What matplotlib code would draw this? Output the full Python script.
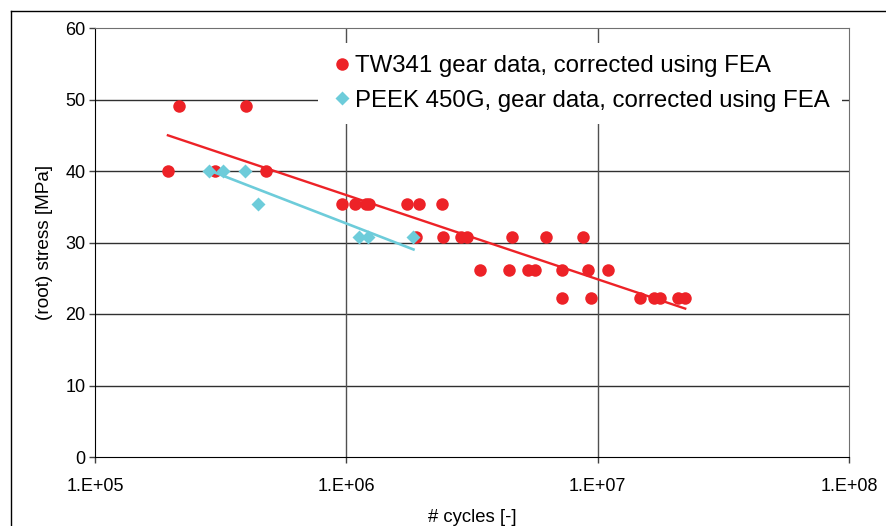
import matplotlib
matplotlib.use("Agg")
import matplotlib.pyplot as plt
import numpy as np
from matplotlib.lines import Line2D
from matplotlib.ticker import FixedLocator, FuncFormatter, NullLocator

plt.rcParams["font.family"] = ["Liberation Sans", "DejaVu Sans"]

# TW341 gear tests: cycles to failure at each root stress level
tw341_cycles = [
    2.16e5, 3.98e5,
    1.95e5, 2.99e5, 4.77e5,
    9.6e5, 1.08e6, 1.20e6, 1.23e6, 1.74e6, 1.94e6, 2.40e6,
    1.89e6, 2.42e6, 2.86e6, 3.01e6, 4.56e6, 6.23e6, 8.78e6,
    3.40e6, 4.42e6, 5.30e6, 5.63e6, 7.24e6, 9.13e6, 1.10e7,
    7.20e6, 9.43e6, 1.48e7, 1.68e7, 1.77e7, 2.09e7, 2.23e7,
]
tw341_stress = (
    [49.1] * 2 + [40.0] * 3 + [35.4] * 7 + [30.7] * 7 + [26.1] * 7 + [22.2] * 7
)

# PEEK 450G gear tests
peek_cycles = [2.84e5, 3.24e5, 3.94e5, 4.47e5, 1.12e6, 1.22e6, 1.85e6]
peek_stress = [40.0, 40.0, 40.0, 35.4, 30.7, 30.7, 30.7]

x_ticks = [1e5, 1e6, 1e7, 1e8]
y_ticks = [0, 10, 20, 30, 40, 50, 60]

RED = "#ED2227"
CYAN = "#6DCCDA"


def log_trend(cycles, stress):
    # S = a + b * ln(N), straight on a log-x axis
    lx = np.log(cycles)
    b, a = np.polyfit(lx, stress, 1)
    xs = np.array([min(cycles), max(cycles)])
    return xs, a + b * np.log(xs)


W, H = 887, 526
fig = plt.figure(figsize=(W / 100, H / 100), dpi=100)
ax = fig.add_axes([95 / W, 1 - 457 / H, (849 - 95) / W, (457 - 28) / H])

ax.set_xscale("log")
ax.set_xlim(1e5, 1e8)
ax.set_ylim(0, 60)

for y in y_ticks[1:-1]:
    ax.axhline(y, color="#303030", lw=1, zorder=1)
for x in x_ticks[1:-1]:
    ax.axvline(x, color="#505050", lw=1, zorder=1)

xs, ys = log_trend(tw341_cycles, tw341_stress)
ax.plot(xs, ys, color=RED, lw=1.7, zorder=3)
xs, ys = log_trend(peek_cycles, peek_stress)
ax.plot(xs, ys, color=CYAN, lw=1.9, zorder=4)

ax.plot(tw341_cycles, tw341_stress, "o", color=RED, ms=9, mec="none",
        zorder=2, label="TW341 gear data, corrected using FEA")
ax.plot(peek_cycles, peek_stress, "D", color=CYAN, ms=7, mec="none",
        zorder=3, label="PEEK 450G, gear data, corrected using FEA")

ax.xaxis.set_major_locator(FixedLocator(x_ticks))
ax.xaxis.set_minor_locator(NullLocator())
ax.xaxis.set_major_formatter(FuncFormatter(lambda v, p: f"1.E+{int(round(np.log10(v))):02d}"))
ax.set_yticks(y_ticks)
ax.tick_params(axis="both", direction="out", length=4, width=1, color="#404040",
               labelsize=13, pad=3)
ax.tick_params(axis="x", pad=11)

for side in ("top", "right"):
    ax.spines[side].set_color("#707070")
for side in ("left", "bottom"):
    ax.spines[side].set_color("black")

ax.set_xlabel("# cycles [-]", fontsize=13.3, labelpad=10)
ax.set_ylabel("(root) stress [MPa]", fontsize=13.7, labelpad=9)

leg = ax.legend(loc="upper left", bbox_to_anchor=(318 / W, 1 - 43 / H),
                bbox_transform=fig.transFigure, fontsize=17.3, frameon=True,
                facecolor="white", edgecolor="none", framealpha=1,
                borderaxespad=0, borderpad=0.5, handlelength=1.0,
                handletextpad=0.05, labelspacing=0.52, markerscale=1.0)
leg.get_frame().set_boxstyle("square", pad=0)
leg.set_zorder(10)

# outer chart border
fig.add_artist(Line2D([11 / W, 1], [1 - 11 / H, 1 - 11 / H], color="black", lw=1))
fig.add_artist(Line2D([11 / W, 11 / W], [0, 1 - 11 / H], color="black", lw=1))

fig.savefig("out.png", dpi=100)
